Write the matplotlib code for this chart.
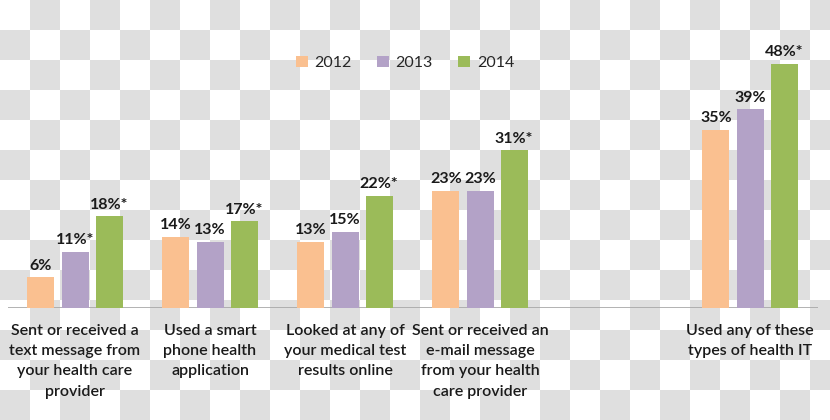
import matplotlib.pyplot as plt
import numpy as np

# survey data (share of respondents, %)
categories = ["Sent or received a\ntext message from\nyour health care\nprovider",
              "Used a smart\nphone health\napplication",
              "Looked at any of\nyour medical test\nresults online",
              "Sent or received an\ne-mail message\nfrom your health\ncare provider",
              "",
              "Used any of these\ntypes of health IT"]
years = ["2012", "2013", "2014"]
v2012 = [6, 14, 13, 23, np.nan, 35]
v2013 = [11, 13, 15, 23, np.nan, 39]
v2014 = [18, 17, 22, 31, np.nan, 48]
lab2012 = ["6%", "14%", "13%", "23%", "", "35%"]
lab2013 = ["11%*", "13%", "15%", "23%", "", "39%"]
lab2014 = ["18%*", "17%*", "22%*", "31%*", "", "48%*"]

colors = ["#FAC090", "#B3A2C7", "#9BBB59"]
txt = "#1a1a1a"
plt.rcParams['font.family'] = ['Lato', 'DejaVu Sans']

fig = plt.figure(figsize=(8.3, 4.2), dpi=100)

# checkerboard background (transparency pattern)
yy, xx = np.mgrid[0:420, 0:830]
board = ((xx // 30 + yy // 30) % 2).astype(float)
bg = np.where(board[..., None] > 0, np.array([0.878, 0.878, 0.878]), np.array([1.0, 1.0, 1.0]))
fig.figimage(bg, xo=0, yo=0, zorder=-10, origin='upper')

ax = fig.add_axes([0, 112 / 420, 1, 308 / 420])
ax.patch.set_alpha(0)
ax.set_xlim(-75 / 135, 755 / 135)
ax.set_ylim(0, 60.5)
ax.axis('off')

x = np.arange(len(categories))
w = 0.2
off = 0.252
series = [(v2012, lab2012), (v2013, lab2013), (v2014, lab2014)]
for k, (vals, labs) in enumerate(series):
    pos = x + (k - 1) * off
    ax.bar(pos, vals, width=w, color=colors[k], label=years[k], zorder=3)
    for p, v, s in zip(pos, vals, labs):
        if s:
            ax.text(p, v + 0.9, s, ha='center', va='bottom', fontsize=11.5,
                    fontweight='bold', color=txt, zorder=4)

ax.hlines(0, -0.5, 5.5, color="#a6a6a6", lw=1.2, zorder=2)

for xi, c in zip(x, categories):
    ax.text(xi, -3.1, c, ha='center', va='top', fontsize=11.5, color=txt,
            linespacing=1.57, fontweight='semibold', clip_on=False)

leg = ax.legend(loc='center', bbox_to_anchor=(405 / 830, 1 - 63 / 308), ncol=3,
                frameon=False, fontsize=11.5, handlelength=0.75, handleheight=0.75,
                columnspacing=1.6, handletextpad=0.4)
for t in leg.get_texts():
    t.set_color("#262626")

fig.savefig("out.png", dpi=100)
